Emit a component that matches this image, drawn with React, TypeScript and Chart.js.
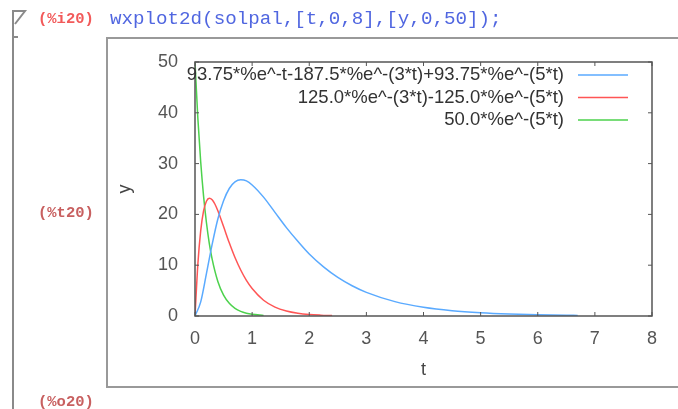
import React, { useEffect, useRef } from "react";
import { Chart, registerables } from "chart.js";

Chart.register(...registerables);

const legendLabels = [
  "93.75*%e^-t-187.5*%e^-(3*t)+93.75*%e^-(5*t)",
  "125.0*%e^-(3*t)-125.0*%e^-(5*t)",
  "50.0*%e^-(5*t)",
];
const seriesColors = ["#5aaaff", "#ff5555", "#4dd24d"];

const tBlue = [0, 0.1, 0.2, 0.3, 0.4, 0.5, 0.6, 0.7, 0.8, 0.9, 1.0, 1.2, 1.4, 1.6, 1.8, 2.0, 2.25, 2.5, 2.75, 3.0, 3.5, 4.0, 4.5, 5.0, 5.5, 6.0, 6.5, 6.7];
const yBlue = [0, 2.79, 8.34, 14.1, 19.1, 22.7, 25.1, 26.4, 26.8, 26.6, 25.8, 23.4, 20.4, 17.4, 14.7, 12.2, 9.67, 7.59, 5.95, 4.65, 2.83, 1.72, 1.04, 0.63, 0.38, 0.23, 0.14, 0.115];

const tRed = [0, 0.05, 0.1, 0.15, 0.2, 0.25, 0.3, 0.35, 0.4, 0.5, 0.6, 0.7, 0.8, 0.9, 1.0, 1.2, 1.4, 1.6, 1.8, 2.0, 2.2, 2.4];
const yRed = [0, 10.2, 16.8, 20.7, 22.6, 23.2, 22.9, 22.0, 20.7, 17.6, 14.4, 11.5, 9.05, 7.0, 5.4, 3.1, 1.76, 0.99, 0.55, 0.3, 0.17, 0.09];

const tGreen = [0, 0.05, 0.1, 0.15, 0.2, 0.25, 0.3, 0.4, 0.5, 0.6, 0.7, 0.8, 0.9, 1.0, 1.2];
const yGreen = [50, 38.9, 30.3, 23.6, 18.4, 14.3, 11.2, 6.8, 4.1, 2.5, 1.5, 0.9, 0.55, 0.34, 0.12];

const xTicks = [0, 1, 2, 3, 4, 5, 6, 7, 8];
const yTicks = [0, 10, 20, 30, 40, 50];

const inputLabel = "(%i20)";
const commandText = "wxplot2d(solpal,[t,0,8],[y,0,50]);";
const textLabel = "(%t20)";
const outputLabel = "(%o20)";

const toPoints = (ts: number[], ys: number[]) => ts.map((t, i) => ({ x: t, y: ys[i] }));

const decorPlugin = {
  id: "decor",
  beforeDraw(chart: any) {
    const ctx = chart.ctx as CanvasRenderingContext2D;
    ctx.save();
    ctx.fillStyle = "#ffffff";
    ctx.fillRect(0, 0, chart.width, chart.height);
    // cell bracket
    ctx.strokeStyle = "#8a8a8a";
    ctx.lineWidth = 2;
    ctx.beginPath();
    ctx.moveTo(13, 409);
    ctx.lineTo(13, 11);
    ctx.lineTo(25, 11);
    ctx.lineTo(15, 24);
    ctx.moveTo(13, 37);
    ctx.lineTo(18, 37);
    ctx.stroke();
    // image frame
    ctx.strokeStyle = "#999";
    ctx.beginPath();
    ctx.moveTo(690, 38);
    ctx.lineTo(107, 38);
    ctx.lineTo(107, 387);
    ctx.lineTo(690, 387);
    ctx.stroke();
    // labels
    ctx.textBaseline = "middle";
    ctx.textAlign = "left";
    ctx.font = "bold 15.5px 'Liberation Mono'";
    ctx.fillStyle = "#f25a5a";
    ctx.fillText(inputLabel, 38, 19);
    ctx.fillStyle = "#c86060";
    ctx.fillText(textLabel, 38, 213);
    ctx.fillText(outputLabel, 38, 402);
    ctx.font = "19.2px 'Liberation Mono'";
    ctx.fillStyle = "#5066e0";
    ctx.fillText(commandText, 110, 19);
    ctx.restore();
  },
  afterDatasetsDraw(chart: any) {
    const ctx = chart.ctx as CanvasRenderingContext2D;
    const { left, right, top, bottom } = chart.chartArea;
    const xs = chart.scales.x;
    const ys = chart.scales.y;
    ctx.save();
    ctx.strokeStyle = "#555";
    ctx.lineWidth = 1.5;
    ctx.strokeRect(left, top, right - left, bottom - top);
    ctx.lineWidth = 1;
    ctx.beginPath();
    xTicks.forEach((v) => {
      const px = xs.getPixelForValue(v);
      ctx.moveTo(px, bottom);
      ctx.lineTo(px, bottom - 4);
      ctx.moveTo(px, top);
      ctx.lineTo(px, top + 4);
    });
    yTicks.forEach((v) => {
      const py = ys.getPixelForValue(v);
      ctx.moveTo(left, py);
      ctx.lineTo(left + 4, py);
      ctx.moveTo(right, py);
      ctx.lineTo(right - 4, py);
    });
    ctx.stroke();
    // legend
    ctx.font = "18.5px 'Liberation Sans'";
    ctx.textAlign = "right";
    ctx.textBaseline = "middle";
    chart.data.datasets.forEach((ds: any, i: number) => {
      const y = 75 + i * 22.5;
      ctx.fillStyle = "#333";
      ctx.fillText(ds.label, 564, y);
      ctx.strokeStyle = ds.borderColor;
      ctx.lineWidth = 1.5;
      ctx.beginPath();
      ctx.moveTo(578, y);
      ctx.lineTo(628, y);
      ctx.stroke();
    });
    ctx.restore();
  },
};

export default function App() {
  const ref = useRef<HTMLCanvasElement>(null);
  useEffect(() => {
    if (!ref.current) return;
    const tickFont = { family: "'Liberation Sans'", size: 18 };
    const chart = new Chart(ref.current, {
      type: "line",
      data: {
        datasets: [
          { label: legendLabels[0], data: toPoints(tBlue, yBlue), borderColor: seriesColors[0] },
          { label: legendLabels[1], data: toPoints(tRed, yRed), borderColor: seriesColors[1] },
          { label: legendLabels[2], data: toPoints(tGreen, yGreen), borderColor: seriesColors[2] },
        ].map((d) => ({
          ...d,
          borderWidth: 1.5,
          pointRadius: 0,
          fill: false,
          cubicInterpolationMode: "monotone" as const,
        })),
      },
      options: {
        animation: false,
        responsive: false,
        events: [],
        layout: { padding: { left: 110, top: 62, right: 26, bottom: 23 } },
        plugins: { legend: { display: false }, tooltip: { enabled: false } },
        scales: {
          x: {
            type: "linear",
            min: 0,
            max: 8,
            afterFit: (s: any) => { s.height = 70; },
            afterBuildTicks: (s: any) => { s.ticks = xTicks.map((v) => ({ value: v })); },
            grid: { display: false, drawTicks: false },
            border: { display: false },
            ticks: { color: "#555", font: tickFont, padding: 12, maxRotation: 0 },
            title: { display: true, text: "t", color: "#444", font: tickFont, padding: { top: 0, bottom: 5 } },
          },
          y: {
            type: "linear",
            min: 0,
            max: 50,
            afterFit: (s: any) => { s.width = 85; },
            afterBuildTicks: (s: any) => { s.ticks = yTicks.map((v) => ({ value: v })); },
            grid: { display: false, drawTicks: false },
            border: { display: false },
            ticks: { color: "#555", font: tickFont, padding: 17 },
            title: { display: true, text: "y", color: "#444", font: tickFont, padding: { top: 4, bottom: 0 } },
          },
        },
      },
      plugins: [decorPlugin],
    } as any);
    return () => chart.destroy();
  }, []);
  return (
    <div style={{ position: "fixed", left: 0, top: 0, width: 678, height: 409, background: "#fff" }}>
      <canvas ref={ref} width={678} height={409} />
    </div>
  );
}
